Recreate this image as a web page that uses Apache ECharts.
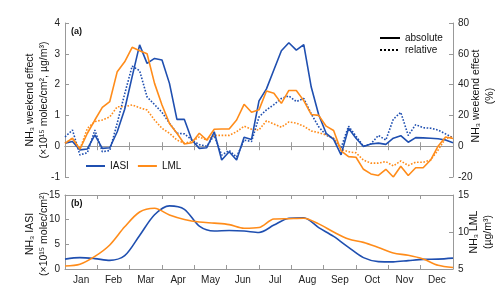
<!DOCTYPE html>
<html>
<head>
<meta charset="utf-8">
<title>NH3 weekend effect</title>
<script src="https://cdn.jsdelivr.net/npm/echarts@6/dist/echarts.min.js"></script>
<style>
    body { margin: 0; }
    #main { width: 500px; height: 300px; }
</style>
</head>
<body>
<div id="main"></div>
<script>
// month labels, data on a weekly index (0..52)
var months = ['Jan', 'Feb', 'Mar', 'Apr', 'May', 'Jun', 'Jul', 'Aug', 'Sep', 'Oct', 'Nov', 'Dec'];

// (a) weekend effect, absolute (x10^15 molec/cm2 or ug/m3)
var iasiAbs = [0.1, 0.15, -0.12, -0.09, 0.37, -0.07, -0.05, 0.47, 1.2, 2.26, 3.29, 2.69, 2.85, 2.8,
    2.04, 0.87, 0.87, 0.2, -0.07, -0.05, 0.47, -0.45, -0.18, -0.45, 0.29, 0.22, 1.47, 1.86, 2.48,
    3.1, 3.36, 3.12, 3.3, 1.92, 1.02, 0.42, 0.22, -0.28, 0.58, 0.26, -0.01, 0.07, 0.1, 0.06, 0.26,
    0.34, 0.13, 0.28, 0.27, 0.26, 0.24, 0.2, 0.11];
var lmlAbs = [0.09, 0.26, -0.1, 0.42, 0.85, 1.26, 1.45, 2.42, 2.74, 3.21, 3.1, 3.0, 2.04, 1.34,
    0.74, 0.42, 0.07, 0.11, 0.42, 0.2, 0.55, 0.56, 0.56, 0.85, 1.36, 1.1, 1.18, 1.79, 1.72, 1.39,
    1.81, 1.81, 1.48, 1.03, 1.0, 0.65, 0.51, -0.15, -0.34, -0.36, -0.75, -0.9, -0.95, -0.75, -1.0,
    -0.65, -0.95, -0.7, -0.7, -0.45, 0.0, 0.3, 0.25];

// (a) weekend effect, relative (%)
var iasiRel = [6, 10.5, -5.7, -4.2, 10.5, -3.6, -2.8, 15, 34, 52, 49, 32, 27, 22, 15, 8.4, 8, 4,
    1, 0, 7, -5.8, -2.8, -7, 4, 3, 19, 23.6, 27, 31, 32.6, 29, 31, 21, 12.6, 7.2, 5, -1, 13, 6.5,
    0, 1.5, 7, 4, 17.5, 22, 7, 14, 12, 11.7, 10.5, 8, 5.5];
var lmlRel = [2, 5, -2, 11.6, 16, 17, 19, 25.6, 25.6, 26.8, 25, 23.5, 17, 11.6, 8.4, 4, 2, 3, 6,
    4, 7, 7, 7, 9.4, 13, 11, 10.5, 16.5, 14.4, 12.3, 15.7, 15, 13, 9.9, 8.8, 7.3, 5.1, -2, -3.6,
    -4.3, -9, -11, -11, -10, -12.8, -9.6, -12.5, -10.4, -10.4, -9, -2.5, 5, 6.2];

// (b) concentrations, every second week
var bottomWeeks = [0, 2, 4, 6, 8, 10, 12, 14, 16, 18, 20, 22, 24, 26, 28, 30, 32, 34, 36, 38, 40,
    42, 44, 46, 48, 50, 52];
var iasiConc = [2.0, 2.3, 2.1, 1.75, 2.7, 6.8, 11.0, 12.8, 12.1, 8.7, 7.7, 7.8, 7.7, 7.4, 8.9,
    10.3, 10.4, 8.4, 6.6, 4.4, 2.3, 1.5, 1.45, 1.7, 1.95, 2.0, 2.2];
var lmlConc = [5.4, 5.65, 6.7, 8.25, 10.7, 12.7, 13.2, 12.3, 11.7, 11.35, 11.2, 11.0, 10.5, 10.6,
    11.75, 11.8, 11.85, 11.1, 10.0, 9.05, 8.6, 7.9, 7.15, 6.85, 6.35, 5.5, 5.2];

var blue = '#1f4fb0';
var orange = '#ff8c1a';
var axisColor = '#999';
var font = 'Liberation Sans, Arial, sans-serif';

function weekly(arr) {
    return arr.map(function (v, i) { return [i, v]; });
}
function paired(xs, ys) {
    return xs.map(function (x, i) { return [x, ys[i]]; });
}

function monthAxis(grid, pos, labels) {
    return {
        type: 'category', gridIndex: grid, position: pos, data: months,
        boundaryGap: true,
        axisLine: { show: true, lineStyle: { color: axisColor } },
        axisTick: { show: true, inside: true, length: 4, interval: 0, lineStyle: { color: axisColor } },
        axisLabel: { show: labels, interval: 0, color: '#222', fontSize: 10, fontFamily: font, margin: 6 },
        splitLine: { show: false }
    };
}
function dataAxis(grid) {
    return { type: 'value', gridIndex: grid, min: 0, max: 52, show: false };
}
function valAxis(grid, pos, min, max, step) {
    return {
        type: 'value', gridIndex: grid, position: pos, min: min, max: max, interval: step,
        axisLine: { show: true, lineStyle: { color: axisColor } },
        axisTick: { show: true, inside: true, length: 4, lineStyle: { color: axisColor } },
        axisLabel: { color: '#222', fontSize: 10, fontFamily: font, margin: 5 },
        splitLine: { show: false }
    };
}
function line(name, data, xi, yi, color, type) {
    return {
        name: name, type: 'line', xAxisIndex: xi, yAxisIndex: yi, data: data,
        symbol: 'none', smooth: false, animation: false,
        lineStyle: { color: color, width: 1.6, type: type },
        itemStyle: { color: color }
    };
}
function vtext(x, y, str) {
    return {
        type: 'text', x: x, y: y, rotation: Math.PI / 2,
        style: { text: str, fill: '#111', font: '10.5px ' + font, align: 'center', verticalAlign: 'middle' }
    };
}

var chart = echarts.init(document.getElementById('main'));

var option = {
    animation: false,
    grid: [
        { left: 65, right: 47, top: 23, height: 154 },
        { left: 65, right: 47, top: 195, height: 74 }
    ],
    xAxis: [
        monthAxis(0, 'bottom', false),
        monthAxis(0, 'top', false),
        dataAxis(0),
        monthAxis(1, 'bottom', true),
        monthAxis(1, 'top', false),
        dataAxis(1)
    ],
    yAxis: [
        valAxis(0, 'left', -1, 4, 1),
        valAxis(0, 'right', -20, 80, 20),
        valAxis(1, 'left', 0, 15, 5),
        valAxis(1, 'right', 5, 15, 5)
    ],
    legend: [
        {
            data: ['IASI', 'LML'], left: 80, top: 156, itemWidth: 19, itemHeight: 10, itemGap: 8,
            itemStyle: { opacity: 0 },
            textStyle: { fontSize: 10, fontFamily: font, color: '#111' }
        },
        {
            data: ['absolute', 'relative'], left: 374, top: 28, orient: 'vertical',
            itemWidth: 20, itemHeight: 10, itemGap: 2,
            itemStyle: { opacity: 0 },
            textStyle: { fontSize: 10, fontFamily: font, color: '#111' }
        }
    ],
    series: [
        line('IASI rel', weekly(iasiRel), 2, 1, blue, 'dotted'),
        line('LML rel', weekly(lmlRel), 2, 1, orange, 'dotted'),
        line('IASI', weekly(iasiAbs), 2, 0, blue, 'solid'),
        line('LML', weekly(lmlAbs), 2, 0, orange, 'solid'),
        line('absolute', [], 2, 0, '#000', 'solid'),
        line('relative', [], 2, 0, '#000', 'dotted'),
        line('IASI conc', paired(bottomWeeks, iasiConc), 5, 2, blue, 'solid'),
        line('LML conc', paired(bottomWeeks, lmlConc), 5, 3, orange, 'solid')
    ],
    graphic: [
        { type: 'text', x: 71, y: 27, style: { text: '(a)', fill: '#111', font: 'bold 9px ' + font } },
        { type: 'text', x: 71, y: 199, style: { text: '(b)', fill: '#111', font: 'bold 9px ' + font } },
        vtext(30, 100, 'NH\u2083 weekend effect'),
        vtext(44, 100, '(\u00d710\u00b9\u2075 molec/cm\u00b2, \u00b5g/m\u00b3)'),
        vtext(476, 96, 'NH\u2083 weekend effect'),
        vtext(490, 96, '(%)'),
        vtext(30, 234, 'NH\u2083 IASI'),
        vtext(44, 234, '(\u00d710\u00b9\u2075 molec/cm\u00b2)'),
        vtext(474, 232, 'NH\u2083 LML'),
        vtext(488, 232, '(\u00b5g/m\u00b3)')
    ]
};

option.series[6].smooth = 0.3;
option.series[7].smooth = 0.3;

chart.setOption(option);
</script>
</body>
</html>
